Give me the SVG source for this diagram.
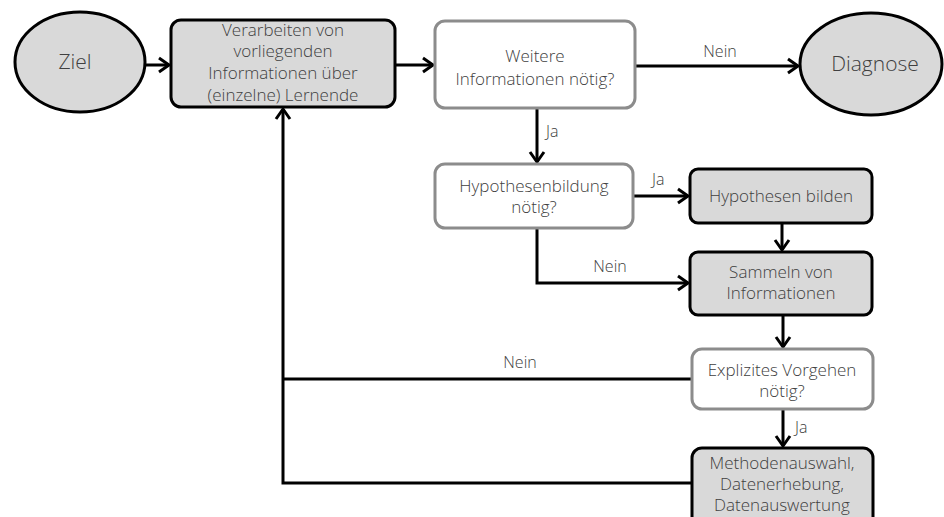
<svg xmlns="http://www.w3.org/2000/svg" width="944" height="517" viewBox="0 0 944 517">
<style>
.t{font-family:"Open Sans","Liberation Sans",sans-serif;font-weight:300;font-size:17px;fill:#404040;text-anchor:middle}
.lbl{font-family:"Open Sans","Liberation Sans",sans-serif;font-weight:300;font-size:16px;fill:#404040}
.big{font-size:21px}
.dark{fill:#d9d9d9;stroke:#000;stroke-width:3}
.light{fill:#fff;stroke:#8c8c8c;stroke-width:3}
.c{fill:none;stroke:#000;stroke-width:3}
</style>
<defs>
<marker id="a" markerUnits="userSpaceOnUse" markerWidth="16" markerHeight="18" viewBox="-2 -2 16 18" refX="10" refY="7" orient="auto">
<path d="M0,0 L10,7 L0,14" fill="none" stroke="#000" stroke-width="3"/>
</marker>
</defs>
<rect width="944" height="517" fill="#fff"/>
<g id="connectors">
<path class="c" d="M145,65 L169,65" marker-end="url(#a)"/>
<path class="c" d="M395,65 L433,65" marker-end="url(#a)"/>
<path class="c" d="M635,66 L798,66" marker-end="url(#a)"/>
<path class="c" d="M537,108 L537,162" marker-end="url(#a)"/>
<path class="c" d="M633,196 L688,196" marker-end="url(#a)"/>
<path class="c" d="M782,223 L782,250" marker-end="url(#a)"/>
<path class="c" d="M537,228 L537,283 L688,283" marker-end="url(#a)"/>
<path class="c" d="M783,315 L783,347" marker-end="url(#a)"/>
<path class="c" d="M692,379 L283,379"/>
<path class="c" d="M783,409 L783,446" marker-end="url(#a)"/>
<path class="c" d="M692,483 L283,483 L283,109" marker-end="url(#a)"/>
<text class="lbl" x="720" y="57" text-anchor="middle">Nein</text>
<text class="lbl" x="546" y="137">Ja</text>
<text class="lbl" x="652" y="185">Ja</text>
<text class="lbl" x="610" y="272" text-anchor="middle">Nein</text>
<text class="lbl" x="520" y="368" text-anchor="middle">Nein</text>
<text class="lbl" x="795" y="433">Ja</text>
</g>
<g id="ziel">
<ellipse class="dark" cx="80" cy="62" rx="65" ry="50"/>
<text class="t big" x="75" y="69">Ziel</text>
</g>
<g id="verarbeiten">
<rect class="dark" x="171" y="20" width="224" height="87" rx="10"/>
<text class="t" x="283" y="36">Verarbeiten von</text>
<text class="t" x="283" y="57">vorliegenden</text>
<text class="t" x="283" y="79">Informationen über</text>
<text class="t" x="283" y="101">(einzelne) Lernende</text>
</g>
<g id="weitere">
<rect class="light" x="435" y="21" width="200" height="87" rx="10"/>
<text class="t" x="535" y="62">Weitere</text>
<text class="t" x="535" y="85">Informationen nötig?</text>
</g>
<g id="diagnose">
<ellipse class="dark" cx="871" cy="64" rx="71" ry="51"/>
<text class="t big" x="875" y="71">Diagnose</text>
</g>
<g id="hypothesenbildung">
<rect class="light" x="435" y="164" width="198" height="64" rx="10"/>
<text class="t" x="534" y="192">Hypothesenbildung</text>
<text class="t" x="534" y="213">nötig?</text>
</g>
<g id="hypothesen-bilden">
<rect class="dark" x="690" y="169" width="182" height="54" rx="8"/>
<text class="t" x="781" y="202">Hypothesen bilden</text>
</g>
<g id="sammeln">
<rect class="dark" x="690" y="252" width="182" height="63" rx="8"/>
<text class="t" x="781" y="278">Sammeln von</text>
<text class="t" x="781" y="299">Informationen</text>
</g>
<g id="explizites">
<rect class="light" x="692" y="349" width="181" height="60" rx="10"/>
<text class="t" x="782" y="376">Explizites Vorgehen</text>
<text class="t" x="782" y="397">nötig?</text>
</g>
<g id="methoden">
<rect class="dark" x="692" y="448" width="181" height="80" rx="10"/>
<text class="t" x="782" y="469">Methodenauswahl,</text>
<text class="t" x="782" y="490">Datenerhebung,</text>
<text class="t" x="782" y="511">Datenauswertung</text>
</g>
</svg>
